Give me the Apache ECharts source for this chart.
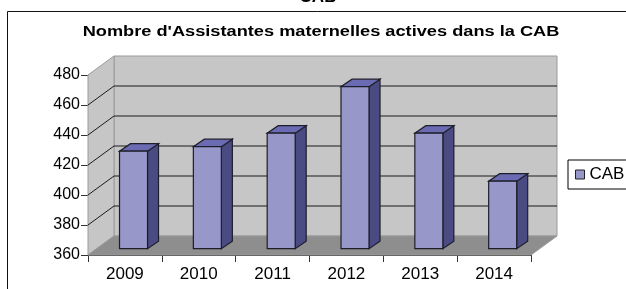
<!DOCTYPE html>
<html>
<head>
<meta charset="utf-8">
<script src="https://cdn.jsdelivr.net/npm/echarts@6/dist/echarts.min.js"></script>
<style>
  html, body { margin: 0; padding: 0; background: #fff; }
  #chart { width: 626px; height: 289px; }
</style>
</head>
<body>
<div id="chart"></div>
<script>
// data
const years = ['2009', '2010', '2011', '2012', '2013', '2014'];
const cabValues = [425, 428, 437, 468, 437, 405];
const yTicks = [360, 380, 400, 420, 440, 460, 480];

const Y_MIN = 360, Y_MAX = 480;

// fake 3D: offset of the back wall and of the bars
const DEPTH_X = 26, DEPTH_Y = -19;
const BAR_SHIFT_X = 8.6, BAR_SHIFT_Y = -6.3;
const BAR_HALF = 14;
const BAR_DEPTH_X = 11, BAR_DEPTH_Y = -7.5;

const WALL = '#c6c6c6';
const FLOOR = '#8e8e8e';
const EDGE = '#9a9a9a';
const FONT = 'Liberation Sans, Arial, sans-serif';

const chart = echarts.init(document.getElementById('chart'));

function renderWalls(params, api) {
  const v = api.value(1);
  const cs = params.coordSys;
  const x0 = cs.x, x1 = cs.x + cs.width;
  const yTop = cs.y, yBot = cs.y + cs.height;
  const y = api.coord([0, v])[1];
  const children = [];

  if (params.dataIndex === 0) {
    // back wall
    children.push({
      type: 'polygon',
      shape: { points: [[x0 + DEPTH_X, yTop + DEPTH_Y], [x1 + DEPTH_X, yTop + DEPTH_Y], [x1 + DEPTH_X, yBot + DEPTH_Y], [x0 + DEPTH_X, yBot + DEPTH_Y]] },
      style: { fill: WALL, stroke: EDGE, lineWidth: 1 }
    });
    // side wall
    children.push({
      type: 'polygon',
      shape: { points: [[x0, yBot], [x0, yTop], [x0 + DEPTH_X, yTop + DEPTH_Y], [x0 + DEPTH_X, yBot + DEPTH_Y]] },
      style: { fill: WALL, stroke: EDGE, lineWidth: 1 }
    });
    // floor
    children.push({
      type: 'polygon',
      shape: { points: [[x0, yBot], [x1, yBot], [x1 + DEPTH_X, yBot + DEPTH_Y], [x0 + DEPTH_X, yBot + DEPTH_Y]] },
      style: { fill: FLOOR, stroke: EDGE, lineWidth: 1 }
    });
  }

  if (v > Y_MIN && v < Y_MAX) {
    children.push({
      type: 'polyline',
      shape: { points: [[x0, y], [x0 + DEPTH_X, y + DEPTH_Y], [x1 + DEPTH_X, y + DEPTH_Y]] },
      style: { stroke: '#1a1a1a', lineWidth: 1, fill: null }
    });
  }
  return { type: 'group', children: children };
}

function renderBar(params, api) {
  const i = api.value(0), v = api.value(1);
  const top = api.coord([i, v]);
  const base = api.coord([i, Y_MIN]);
  const cx = top[0] + BAR_SHIFT_X;
  const yT = top[1] + BAR_SHIFT_Y;
  const yB = base[1] + BAR_SHIFT_Y;
  const l = cx - BAR_HALF, r = cx + BAR_HALF;
  const line = { stroke: '#1e1e2a', lineWidth: 1.2 };

  return {
    type: 'group',
    children: [
      {
        type: 'polygon',
        shape: { points: [[r, yB], [r, yT], [r + BAR_DEPTH_X, yT + BAR_DEPTH_Y], [r + BAR_DEPTH_X, yB + BAR_DEPTH_Y]] },
        style: Object.assign({ fill: '#4b4b84' }, line)
      },
      {
        type: 'polygon',
        shape: { points: [[l, yT], [r, yT], [r + BAR_DEPTH_X, yT + BAR_DEPTH_Y], [l + BAR_DEPTH_X, yT + BAR_DEPTH_Y]] },
        style: Object.assign({ fill: '#6b6bb3' }, line)
      },
      {
        type: 'rect',
        shape: { x: l, y: yT, width: r - l, height: yB - yT },
        style: Object.assign({ fill: '#9797ca' }, line)
      }
    ]
  };
}

chart.setOption({
  animation: false,
  backgroundColor: '#fff',
  graphic: [
    {
      type: 'rect',
      shape: { x: 7.5, y: 11.5, width: 700, height: 400 },
      style: { fill: null, stroke: '#111', lineWidth: 1 },
      silent: true
    },
    {
      type: 'text',
      x: 318, y: -3,
      style: { text: 'CAB', fill: '#000', font: 'bold 17px ' + FONT, align: 'center', verticalAlign: 'middle' }
    },
    {
      // the original title is spaced out wide, stretch it to the same span
      type: 'text',
      x: 321, y: 32,
      scaleX: 1.3,
      style: { text: "Nombre d'Assistantes maternelles actives dans la CAB", fill: '#000', font: 'bold 14px ' + FONT, align: 'center', verticalAlign: 'middle' }
    }
  ],
  legend: {
    left: 568,
    top: 160,
    padding: [6, 60, 6, 7],
    borderColor: '#000',
    borderWidth: 1,
    borderRadius: 0,
    itemWidth: 9,
    itemHeight: 9,
    textStyle: { fontSize: 17, color: '#000', fontFamily: FONT },
    data: [{ name: 'CAB', icon: 'rect', itemStyle: { color: '#9797ca', borderColor: '#222', borderWidth: 1 } }]
  },
  grid: { left: 88, right: 95, top: 75, bottom: 34 },
  xAxis: {
    type: 'category',
    data: years,
    boundaryGap: true,
    axisLine: { lineStyle: { color: '#333', width: 1 } },
    axisTick: { show: true, length: 7, interval: 0, lineStyle: { color: '#333' } },
    axisLabel: { fontSize: 17, color: '#000', fontFamily: FONT, margin: 11 }
  },
  yAxis: {
    type: 'value',
    min: Y_MIN,
    max: Y_MAX,
    interval: 20,
    splitLine: { show: false },
    axisLine: { show: true, lineStyle: { color: '#333', width: 1 } },
    axisTick: { show: true, length: 7, lineStyle: { color: '#333' } },
    axisLabel: { fontSize: 16, color: '#000', fontFamily: FONT, margin: 8 }
  },
  series: [
    {
      name: 'walls',
      type: 'custom',
      z: 1,
      silent: true,
      renderItem: renderWalls,
      data: yTicks.map(v => [0, v])
    },
    {
      name: 'CAB',
      type: 'custom',
      z: 2,
      itemStyle: { color: '#9797ca' },
      renderItem: renderBar,
      data: cabValues.map((v, i) => [i, v])
    }
  ]
});
</script>
</body>
</html>
